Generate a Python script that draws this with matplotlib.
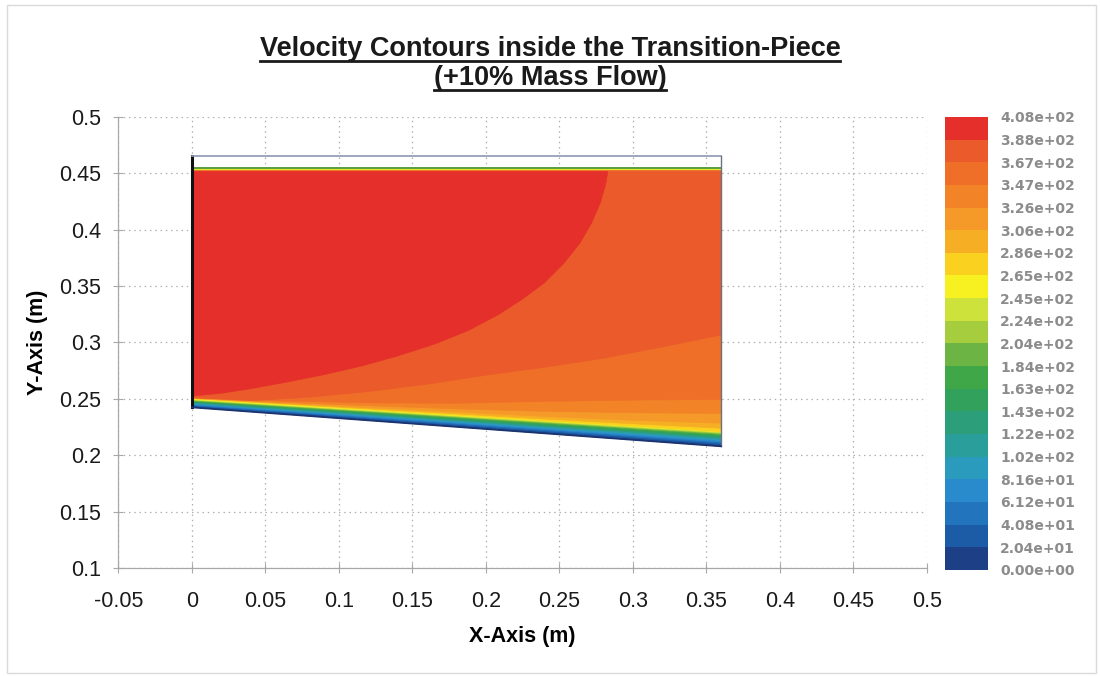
import numpy as np
import matplotlib
matplotlib.use("Agg")
import matplotlib.pyplot as plt
from matplotlib.colors import ListedColormap, BoundaryNorm
from matplotlib.cm import ScalarMappable
from matplotlib.lines import Line2D
from matplotlib.patches import Rectangle

plt.rcParams['font.family'] = ['Liberation Sans', 'DejaVu Sans']

# velocity levels (m/s) and the band colours between them, lowest first
levels = [0.0, 20.4, 40.8, 61.2, 81.6, 102, 122, 143, 163, 184, 204,
          224, 245, 265, 286, 306, 326, 347, 367, 388, 408]
band_colors = ['#1d3f86', '#1c5ca6', '#2274bd', '#2a8bcc', '#2b9bbd',
               '#2a9e9b', '#2c9f7a', '#32a15c', '#3fa748', '#6cb545',
               '#a6cd3d', '#cde23a', '#f8f122', '#fad11f', '#f6ae24',
               '#f59a28', '#f28327', '#ef6f29', '#eb5a2b', '#e42f2a']

# transition-piece geometry (m)
wall_x = [0.0, 0.36]
wall_y = [0.2425, 0.2080]
outline_top = 0.465

# thin boundary-layer bands on the lower wall: offset above the wall at inlet / outlet
layer_off_in = [0.0010, 0.0017, 0.0024, 0.0030, 0.0036, 0.0042,
                0.0048, 0.0053, 0.0058, 0.0063, 0.0067, 0.0071]
layer_off_out = [0.0015, 0.0028, 0.0040, 0.0052, 0.0064, 0.0075,
                 0.0086, 0.0096, 0.0106, 0.0114, 0.0121, 0.0128]

# iso-velocity lines in the lower part of the core flow
station_x = [0.0, 0.06, 0.12, 0.18, 0.24, 0.30, 0.36]
iso_265 = [0.2502, 0.2454, 0.2405, 0.2357, 0.2307, 0.2259, 0.2210]
iso_286 = [0.2504, 0.2458, 0.2412, 0.2368, 0.2322, 0.2280, 0.2240]
iso_306 = [0.2506, 0.2463, 0.2422, 0.2385, 0.2345, 0.2310, 0.2285]
iso_326 = [0.2508, 0.2470, 0.2440, 0.2412, 0.2390, 0.2378, 0.2370]
iso_347 = [0.2510, 0.2482, 0.2465, 0.2462, 0.2478, 0.2490, 0.2495]

iso_367_x = [0.0, 0.04, 0.08, 0.12, 0.16, 0.20, 0.24, 0.28, 0.32, 0.36]
iso_367_y = [0.2512, 0.2485, 0.2515, 0.2565, 0.2630, 0.2710, 0.2780,
             0.2860, 0.2960, 0.3066]

# edge of the high-speed core
iso_388_x = [0.0, 0.02, 0.04, 0.065, 0.09, 0.115, 0.14, 0.165, 0.188,
             0.209, 0.225, 0.240, 0.253, 0.264, 0.272, 0.278, 0.2815, 0.283]
iso_388_y = [0.2525, 0.2550, 0.2590, 0.2650, 0.2715, 0.2790, 0.2880, 0.2985,
             0.3105, 0.3250, 0.3385, 0.3530, 0.3700, 0.3880, 0.4060, 0.4240,
             0.4400, 0.4515]

# upper limit of each band near the top wall
top_edge = [0.4545] * 10 + [0.4530] * 3 + [0.4522] * 5 + [0.4515] * 2

xticks = np.round(np.arange(-0.05, 0.501, 0.05), 2)
yticks = np.round(np.arange(0.10, 0.501, 0.05), 2)


def bottom_curve(k):
    if k == 0:
        return wall_x, wall_y
    if k <= 12:
        return wall_x, [wall_y[0] + layer_off_in[k - 1], wall_y[1] + layer_off_out[k - 1]]
    if k <= 17:
        return station_x, [iso_265, iso_286, iso_306, iso_326, iso_347][k - 13]
    if k == 18:
        return iso_367_x, iso_367_y
    return iso_388_x, iso_388_y


fig = plt.figure(figsize=(11, 6.76), dpi=100)
fig.add_artist(Rectangle((0.006, 0.004), 0.990, 0.989, transform=fig.transFigure,
                         fill=False, edgecolor='#dadada', lw=1.0))

ax = fig.add_axes([0.1075, 0.1593, 0.7352, 0.6681])

# paint the bands, each one covers the region where velocity exceeds its lower level
for k in range(20):
    bx, by = bottom_curve(k)
    top = top_edge[k]
    px = list(bx) + [bx[-1], bx[0]]
    py = list(by) + [top, top]
    ax.fill(px, py, color=band_colors[k], lw=0.4, edgecolor=band_colors[k], zorder=2)

# walls
ax.plot([wall_x[0], wall_x[0]], [wall_y[0], outline_top], color='#111111', lw=2.2, zorder=4)
ax.plot([wall_x[0], wall_x[1]], [outline_top, outline_top], color='#8c9ab4', lw=1.2, zorder=4)
ax.plot([wall_x[1], wall_x[1]], [wall_y[1], outline_top], color='#6a7282', lw=1.0, zorder=4)
ax.plot(wall_x, wall_y, color='#1b3470', lw=1.2, zorder=4)
ax.plot(wall_x, [top_edge[0], top_edge[0]], color='#5e9c3c', lw=1.2, zorder=3)

ax.set_xlim(-0.05, 0.5)
ax.set_ylim(0.1, 0.5)
ax.set_xticks(xticks)
ax.set_yticks(yticks)
ax.set_xticklabels(['{:g}'.format(v) for v in xticks])
ax.set_yticklabels(['{:g}'.format(v) for v in yticks])
ax.tick_params(direction='inout', length=7, width=0.8, color='#a8a8a8',
               labelsize=15.5, labelcolor='#1a1a1a')
ax.tick_params(axis='x', pad=13)
ax.tick_params(axis='y', pad=9)
for side in ['top', 'right']:
    ax.spines[side].set_visible(False)
for side in ['left', 'bottom']:
    ax.spines[side].set_color('#a8a8a8')
    ax.spines[side].set_linewidth(0.9)
ax.set_axisbelow(True)
ax.grid(True, linestyle=(0, (1.2, 3)), color='#b0b0b0', lw=0.9)

ax.set_xlabel('X-Axis (m)', fontsize=15.5, fontweight='bold', labelpad=10)
ax.set_ylabel('Y-Axis (m)', fontsize=15.5, fontweight='bold', labelpad=8)

# colour legend
cax = fig.add_axes([0.859, 0.157, 0.039, 0.670])
cmap = ListedColormap(band_colors)
norm = BoundaryNorm(levels, cmap.N)
cb = fig.colorbar(ScalarMappable(norm=norm, cmap=cmap), cax=cax,
                  ticks=levels, spacing='uniform')
cb.outline.set_visible(False)
cax.set_yticklabels(['{:.2e}'.format(v) for v in levels])
cax.tick_params(length=0, pad=9)
for t in cax.get_yticklabels():
    t.set_fontfamily('DejaVu Sans')
    t.set_fontweight('bold')
    t.set_fontsize(10)
    t.set_color('#8c8c8c')

# two-line underlined title
titles = ['Velocity Contours inside the Transition-Piece', '(+10% Mass Flow)']
title_y = [0.927, 0.884]
texts = [fig.text(0.5, y, s, ha='center', va='center', fontsize=19.5,
                  fontweight='bold', color='#1a1a1a') for s, y in zip(titles, title_y)]
fig.canvas.draw()
renderer = fig.canvas.get_renderer()
W, H = fig.bbox.width, fig.bbox.height
for t in texts:
    bb = t.get_window_extent(renderer)
    yl = (bb.y0 + 1) / H
    fig.add_artist(Line2D([bb.x0 / W, bb.x1 / W], [yl, yl], transform=fig.transFigure,
                          color='#1a1a1a', lw=2.0))

fig.savefig('out.png', dpi=100)
